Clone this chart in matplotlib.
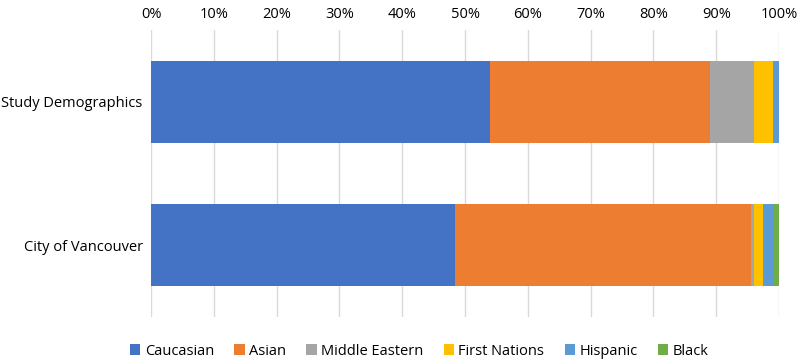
import matplotlib.pyplot as plt
from matplotlib.ticker import PercentFormatter

plt.rcParams['font.family'] = ['Open Sans', 'DejaVu Sans']

groups = ['Study Demographics', 'City of Vancouver']
labels = ['Caucasian', 'Asian', 'Middle Eastern', 'First Nations', 'Hispanic', 'Black']
colors = ['#4472C4', '#ED7D31', '#A5A5A5', '#FFC000', '#5B9BD5', '#70AD47']

# percent shares, one list per category
caucasian = [54.0, 48.4]
asian = [35.0, 47.2]
middle_eastern = [7.0, 0.4]
first_nations = [3.0, 1.4]
hispanic = [1.0, 1.6]
black = [0.0, 1.0]
series = [caucasian, asian, middle_eastern, first_nations, hispanic, black]

fig = plt.figure(figsize=(7.97, 3.62), dpi=100)
ax = fig.add_axes([0.1895, 0.1243, 0.788, 0.7928])

ypos = list(range(len(groups)))
left = [0.0] * len(groups)
for vals, lab, col in zip(series, labels, colors):
    ax.barh(ypos, vals, left=left, height=0.57, color=col, label=lab)
    left = [a + b for a, b in zip(left, vals)]

ax.set_xlim(0, 100)
ax.set_ylim(1.5, -0.5)
ax.set_xticks(range(0, 101, 10))
ax.xaxis.set_major_formatter(PercentFormatter(decimals=0))
ax.xaxis.tick_top()
ax.set_yticks(ypos)
ax.set_yticklabels(groups)
ax.tick_params(axis='both', length=0, labelsize=10.5, colors='#000000')
ax.tick_params(axis='x', pad=6)
ax.tick_params(axis='y', pad=6)
ax.grid(axis='x', color='#D9D9D9', linewidth=1)
ax.set_axisbelow(True)
for s in ax.spines.values():
    s.set_visible(False)

fig.legend(loc='center', bbox_to_anchor=(0.526, 0.03), ncol=6, frameon=False,
           fontsize=10.5, handlelength=0.7, handleheight=0.7, handletextpad=0.3,
           columnspacing=1.4)

plt.savefig('out.png', dpi=100)
